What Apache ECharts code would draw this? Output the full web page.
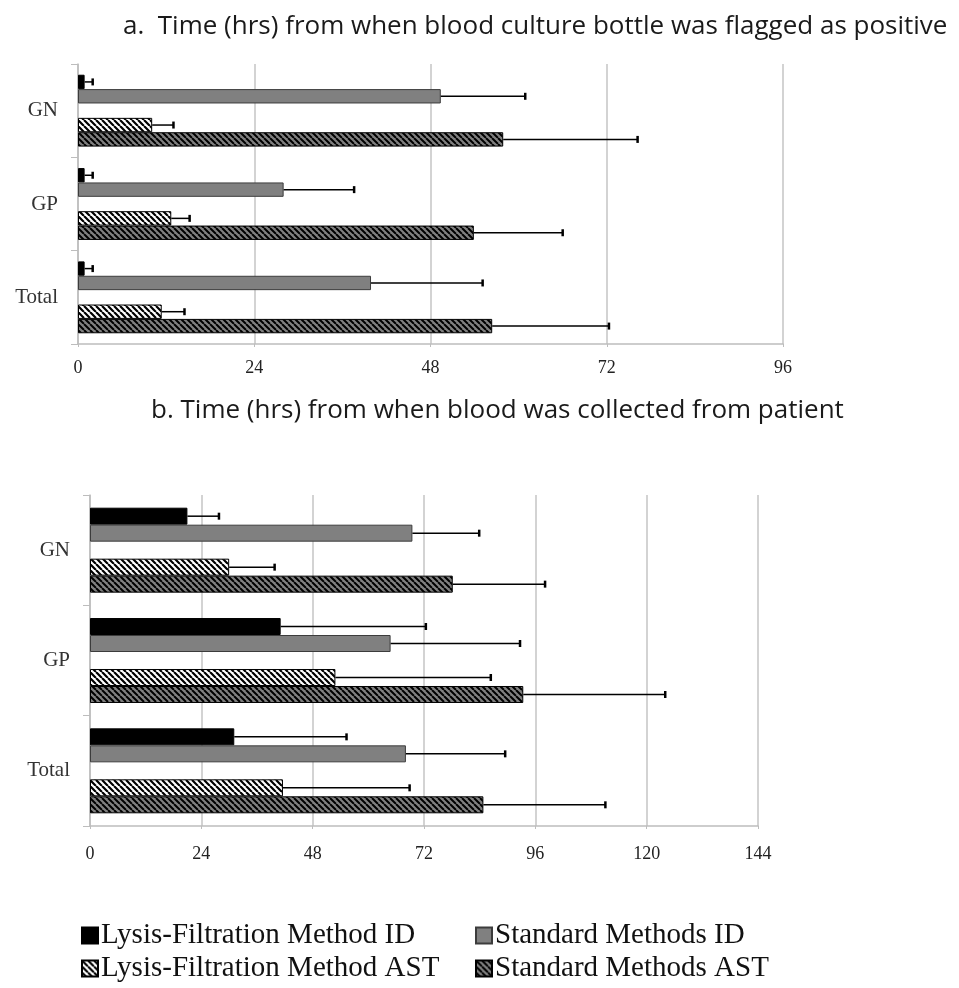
<!DOCTYPE html>
<html><head><meta charset="utf-8">
<script src="https://cdn.jsdelivr.net/npm/echarts/dist/echarts.min.js"></script>
<style>html,body{margin:0;padding:0;background:#fff}#c{width:959px;height:988px}</style>
</head><body><div id="c"></div>
<script>
const categories = ['GN', 'GP', 'Total'];
const seriesNames = ['Lysis-Filtration Method ID', 'Standard Methods ID', 'Lysis-Filtration Method AST', 'Standard Methods AST'];
const titleA = 'a.  Time (hrs) from when blood culture bottle was flagged as positive';
const titleB = 'b. Time (hrs) from when blood was collected from patient';
const xTicksA = [0, 24, 48, 72, 96];
const xTicksB = [0, 24, 48, 72, 96, 120, 144];

// Panel a (hours from positive flag)
const aLysisID = [0.9, 0.9, 0.9];
const aLysisIDErr = [1.1, 1.1, 1.1];
const aStdID = [49.4, 28.0, 39.9];
const aStdIDErr = [11.5, 9.6, 15.2];
const aLysisAST = [10.1, 12.7, 11.4];
const aLysisASTErr = [2.9, 2.5, 3.1];
const aStdAST = [57.9, 53.9, 56.4];
const aStdASTErr = [18.3, 12.1, 15.9];

// Panel b (hours from blood collection)
const bLysisID = [21.0, 41.1, 31.1];
const bLysisIDErr = [6.8, 31.3, 24.2];
const bStdID = [69.5, 64.8, 68.1];
const bStdIDErr = [14.4, 27.9, 21.4];
const bLysisAST = [30.0, 52.9, 41.6];
const bLysisASTErr = [9.8, 33.5, 27.3];
const bStdAST = [78.2, 93.4, 84.8];
const bStdASTErr = [19.9, 30.6, 26.3];

function hatch(bg, fg, p, lw) {
  const c = document.createElement('canvas');
  c.width = p; c.height = p;
  const ctx = c.getContext('2d');
  ctx.fillStyle = bg; ctx.fillRect(0, 0, p, p);
  ctx.strokeStyle = fg; ctx.lineWidth = lw;
  ctx.beginPath();
  for (let k = -1; k <= 1; k++) { ctx.moveTo(k * p, 0); ctx.lineTo(k * p + p, p); }
  ctx.stroke();
  return { image: c, repeat: 'repeat' };
}

const styles = [
  { color: '#000000', borderColor: '#000000', borderWidth: 1 },
  { color: '#808080', borderColor: '#3c3c3c', borderWidth: 1 },
  { color: hatch('#ffffff', '#000000', 6, 2.2), borderColor: '#000000', borderWidth: 1 },
  { color: hatch('#808080', '#000000', 6, 2), borderColor: '#000000', borderWidth: 1 }
];
const GAP = 0.23;
const SLOTS = [0, 1, 3, 4];

function renderErr(params, api) {
  const val = api.value(0), cat = api.value(1), err = api.value(2), slot = api.value(3);
  const p0 = api.coord([val, cat]);
  const p1 = api.coord([val + err, cat]);
  const bw = api.size([0, 1])[1];
  const slotW = bw * (1 - GAP) / 5;
  const y = p0[1] - bw / 2 + bw * GAP / 2 + (slot + 0.5) * slotW;
  const cap = 3.5;
  return { type: 'group', children: [
    { type: 'line', shape: { x1: p0[0], y1: y, x2: p1[0], y2: y }, style: { stroke: '#000', lineWidth: 1.5 } },
    { type: 'line', shape: { x1: p1[0], y1: y - cap, x2: p1[0], y2: y + cap }, style: { stroke: '#000', lineWidth: 2.5 } }
  ] };
}

function panelSeries(g, vals, errs) {
  const out = [];
  vals.forEach((v, i) => {
    out.push({ type: 'bar', name: seriesNames[i], xAxisIndex: g, yAxisIndex: g, data: v,
      itemStyle: styles[i], barGap: '0%', barCategoryGap: (GAP * 100) + '%', silent: true });
    if (i === 1) out.push({ type: 'bar', name: '_gap', xAxisIndex: g, yAxisIndex: g,
      data: categories.map(() => null), barGap: '0%', barCategoryGap: (GAP * 100) + '%', silent: true });
  });
  const errData = [];
  vals.forEach((v, i) => v.forEach((val, c) => errData.push([val, c, errs[i][c], SLOTS[i]])));
  out.push({ type: 'custom', xAxisIndex: g, yAxisIndex: g, data: errData, encode: { x: 0, y: 1 },
    renderItem: renderErr, z: 5, silent: true });
  return out;
}

const serif = 'Liberation Serif';
function xAxis(g, ticks, margin) {
  return { type: 'value', gridIndex: g, min: ticks[0], max: ticks[ticks.length - 1], interval: ticks[1] - ticks[0],
    axisLine: { show: true, lineStyle: { color: '#bdbdbd', width: 1.5 } },
    axisTick: { show: true, length: 3, lineStyle: { color: '#bdbdbd' } },
    splitLine: { show: true, lineStyle: { color: '#c4c4c4', width: 1.5 } },
    axisLabel: { fontFamily: serif, fontSize: 18, color: '#222', margin: margin } };
}
function yAxis(g) {
  return { type: 'category', gridIndex: g, data: categories, inverse: true,
    axisLine: { show: true, lineStyle: { color: '#bdbdbd', width: 1.5 } },
    axisTick: { show: true, length: 7, lineStyle: { color: '#bdbdbd' } },
    axisLabel: { fontFamily: serif, fontSize: 21, color: '#333', margin: 20 } };
}

const legendPos = [[76, 916], [470, 916], [76, 949], [470, 949]];
const legends = seriesNames.map((n, i) => ({
  data: [n], left: legendPos[i][0], top: legendPos[i][1], itemWidth: 16, itemHeight: 16, itemGap: 4,
  icon: 'rect', selectedMode: false,
  textStyle: { fontFamily: serif, fontSize: 29, color: '#111', padding: [0, 0, 0, -2] }
}));

const titleStyle = { fontFamily: 'Open Sans', fontSize: 26, fontWeight: 'normal', color: '#1a1a1a' };
const option = {
  animation: false,
  backgroundColor: '#ffffff',
  title: [
    { text: titleA, left: 118, top: 9, textStyle: titleStyle },
    { text: titleB, left: 146, top: 393, textStyle: titleStyle }
  ],
  legend: legends,
  grid: [
    { left: 78, right: 176, top: 64, height: 280 },
    { left: 90, right: 201, top: 495, height: 331 }
  ],
  xAxis: [xAxis(0, xTicksA, 15), xAxis(1, xTicksB, 19)],
  yAxis: [yAxis(0), yAxis(1)],
  series: [].concat(
    panelSeries(0, [aLysisID, aStdID, aLysisAST, aStdAST], [aLysisIDErr, aStdIDErr, aLysisASTErr, aStdASTErr]),
    panelSeries(1, [bLysisID, bStdID, bLysisAST, bStdAST], [bLysisIDErr, bStdIDErr, bLysisASTErr, bStdASTErr])
  )
};
const chart = echarts.init(document.getElementById('c'));
chart.setOption(option);
</script></body></html>
